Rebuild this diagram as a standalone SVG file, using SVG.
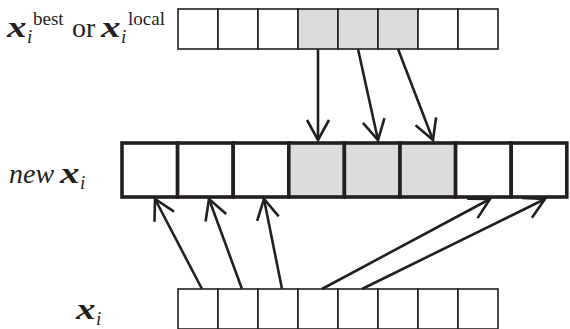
<svg xmlns="http://www.w3.org/2000/svg" width="570" height="329" viewBox="0 0 570 329">
<style>
.cell{fill:#fff;stroke:#231f20;stroke-width:1.6}
.thick{fill:#fff;stroke:#231f20;stroke-width:3.6}
.sh{fill:#dcdcde}
.arr{stroke:#231f20;stroke-width:2.6;fill:none;marker-end:url(#ah)}
.t{font-family:"Liberation Serif","Times New Roman",serif;fill:#231f20}
.bx{font-weight:bold;font-style:italic;font-size:30px}
.it{font-style:italic}
</style>
<defs>
<marker id="ah" markerUnits="userSpaceOnUse" markerWidth="30" markerHeight="30" viewBox="-25 -15 30 30" refX="0" refY="0" orient="auto">
<path d="M-20,-11 L0,0 L-20,11" fill="none" stroke="#231f20" stroke-width="2.6"/>
</marker>
</defs>
<g id="labels">
<text class="t bx" transform="translate(7,37) scale(1.3,1)">x</text>
<text class="t it" x="27" y="43" font-size="19">i</text>
<text class="t" x="33" y="25" font-size="19">best</text>
<text class="t" x="72" y="37" font-size="28">or</text>
<text class="t bx" transform="translate(101,37) scale(1.3,1)">x</text>
<text class="t it" x="121" y="43" font-size="19">i</text>
<text class="t" x="128" y="25" font-size="19">local</text>
<text class="t it" x="9" y="183" font-size="28">new</text>
<text class="t bx" transform="translate(60,183) scale(1.3,1)">x</text>
<text class="t it" x="80" y="189" font-size="19">i</text>
<text class="t bx" transform="translate(76,319) scale(1.3,1)">x</text>
<text class="t it" x="96" y="325" font-size="19">i</text>
</g>
<g id="top-row">
<rect class="cell" x="178" y="9" width="40" height="40"/>
<rect class="cell" x="218" y="9" width="40" height="40"/>
<rect class="cell" x="258" y="9" width="40" height="40"/>
<rect class="cell sh" x="298" y="9" width="40" height="40"/>
<rect class="cell sh" x="338" y="9" width="40" height="40"/>
<rect class="cell sh" x="378" y="9" width="40" height="40"/>
<rect class="cell" x="418" y="9" width="40" height="40"/>
<rect class="cell" x="458" y="9" width="40" height="40"/>
</g>
<g id="middle-row">
<rect class="thick" x="122" y="143" width="55.6" height="54"/>
<rect class="thick" x="177.6" y="143" width="55.6" height="54"/>
<rect class="thick" x="233.2" y="143" width="55.6" height="54"/>
<rect class="thick sh" x="288.8" y="143" width="55.6" height="54"/>
<rect class="thick sh" x="344.4" y="143" width="55.6" height="54"/>
<rect class="thick sh" x="400" y="143" width="55.6" height="54"/>
<rect class="thick" x="455.6" y="143" width="55.6" height="54"/>
<rect class="thick" x="511.2" y="143" width="55.6" height="54"/>
</g>
<g id="bottom-row">
<rect class="cell" x="178" y="289" width="40" height="40"/>
<rect class="cell" x="218" y="289" width="40" height="40"/>
<rect class="cell" x="258" y="289" width="40" height="40"/>
<rect class="cell" x="298" y="289" width="40" height="40"/>
<rect class="cell" x="338" y="289" width="40" height="40"/>
<rect class="cell" x="378" y="289" width="40" height="40"/>
<rect class="cell" x="418" y="289" width="40" height="40"/>
<rect class="cell" x="458" y="289" width="40" height="40"/>
</g>
<g id="connectors">
<line class="arr" x1="318" y1="49" x2="318" y2="140"/>
<line class="arr" x1="358" y1="49" x2="378" y2="140"/>
<line class="arr" x1="398" y1="49" x2="433" y2="140"/>
<line class="arr" x1="202" y1="289" x2="155" y2="199"/>
<line class="arr" x1="242" y1="289" x2="209" y2="199"/>
<line class="arr" x1="282" y1="289" x2="264" y2="199"/>
<line class="arr" x1="322" y1="289" x2="490" y2="199"/>
<line class="arr" x1="362" y1="289" x2="545" y2="199"/>
</g>
</svg>
